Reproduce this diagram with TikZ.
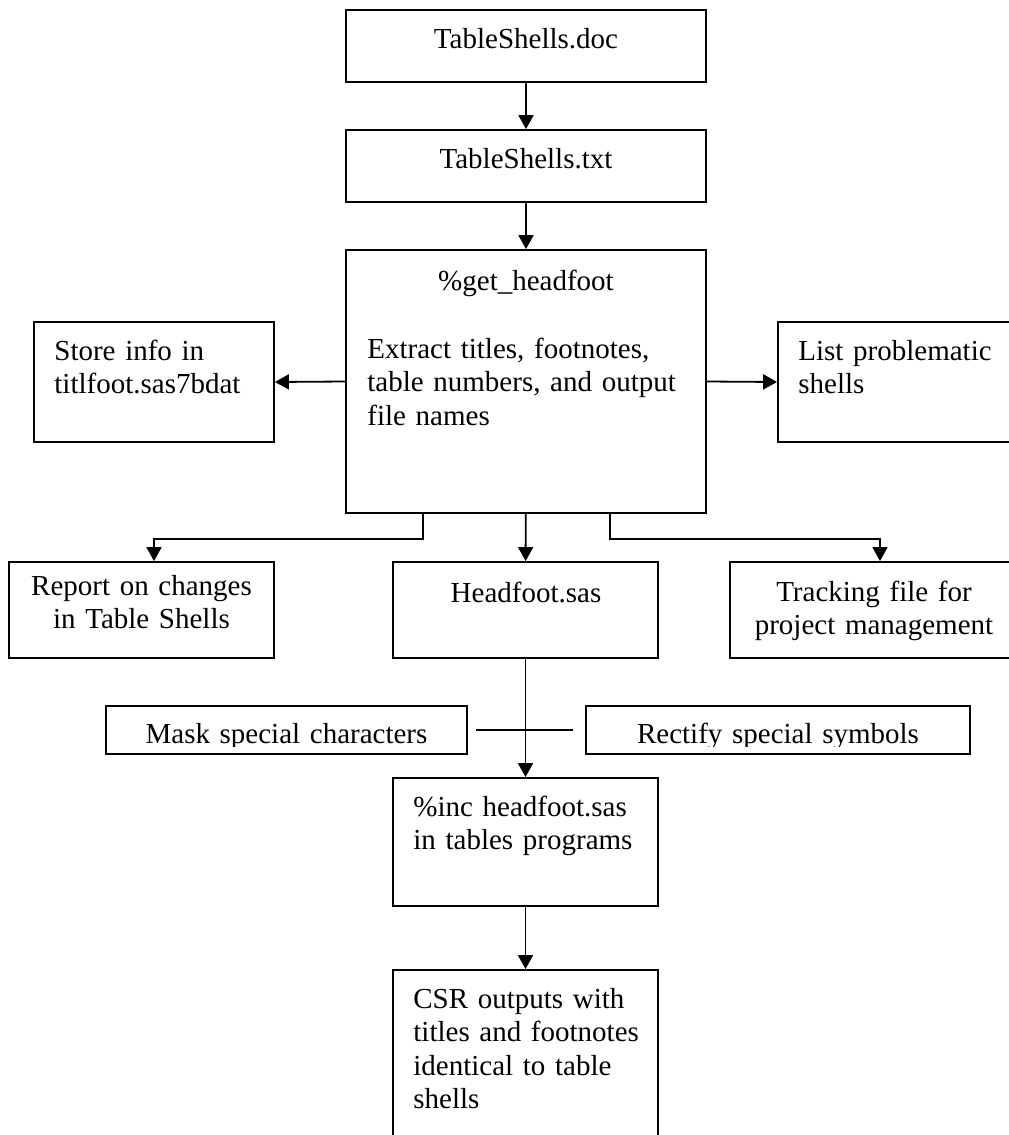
\documentclass[tikz,border=0pt]{standalone}
\usepackage{fontspec}
\setmainfont{Liberation Serif}
\usetikzlibrary{arrows.meta,fit}

\begin{document}
\begin{tikzpicture}[x=0.5pt,y=-0.5pt,
        box/.style={draw,line width=0.9pt,inner sep=0pt},
        lbl/.style={inner sep=0pt,text width=180pt,font=\fontsize{14.5}{16.75}\selectfont},
        arr/.style={line width=0.9pt,-{Triangle[width=7.5pt,length=7pt]}}]
        \useasboundingbox (0,0) rectangle (1008,1135);
        %% top column
        \node[box,fit={(346,10)(706,82)}] (doc) {};
        \node[lbl,align=center,anchor=base] (doctxt) at (526,48) {TableShells.doc};
        \node[box,fit={(346,130)(706,202)}] (txt) {};
        \node[lbl,align=center,anchor=base] (txttxt) at (526,168) {TableShells.txt};
        \node[box,fit={(346,250)(706,513)}] (get) {};
        \node[lbl,align=center,anchor=base] (gettitle) at (526,290) {\%get\_headfoot};
        \node[lbl,align=left,anchor=base west] (gettxt) at (367,358) {Extract titles, footnotes,\\table numbers, and output\\file names};
        %% side boxes
        \node[box,fit={(34,322)(274,442)}] (store) {};
        \node[lbl,align=left,anchor=base west] (storetxt) at (54,360) {Store info in\\titlfoot.sas7bdat};
        \node[box,fit={(778,322)(1020,442)}] (list) {};
        \node[lbl,align=left,anchor=base west] (listtxt) at (798,360) {List problematic\\shells};
        %% outputs
        \node[box,fit={(9,562)(274,658)}] (report) {};
        \node[lbl,align=center,anchor=base] (reporttxt) at (141.5,595) {Report on changes\\in Table Shells};
        \node[box,fit={(393,562)(658,658)}] (head) {};
        \node[lbl,align=center,anchor=base] (headtxt) at (526,602) {Headfoot.sas};
        \node[box,fit={(730,562)(1018,658)}] (track) {};
        \node[lbl,align=center,anchor=base] (tracktxt) at (874,601) {Tracking file for\\project management};
        %% special characters
        \node[box,fit={(106,706)(467,754)}] (mask) {};
        \node[box,fit={(586,706)(970,754)}] (rect) {};
        \begin{scope}
            \clip (100,700) rectangle (980,746);
            \node[lbl,align=center,anchor=base] (masktxt) at (286.5,743) {Mask special characters};
            \node[lbl,align=center,anchor=base] (recttxt) at (778,743) {Rectify special symbols};
        \end{scope}
        %% bottom column
        \node[box,fit={(393,778)(658,906)}] (inc) {};
        \node[lbl,align=left,anchor=base west] (inctxt) at (413,816) {\%inc headfoot.sas\\in tables programs};
        \node[box,fit={(393,970)(658,1150)}] (csr) {};
        \node[lbl,align=left,anchor=base west] (csrtxt) at (413,1008) {CSR outputs with\\titles and footnotes\\identical to table\\shells};
        %% connectors
        \draw[arr] (doc) -- (txt);
        \draw[arr] (txt) -- (get);
        \draw[arr] (get.west) -- (store.east);
        \draw[arr] (get.east) -- (list.west);
        \draw[arr] (get) -- (head);
        \draw[arr] ([xshift=-51.5pt]get.south) -- ++(0,25) -| ([xshift=6.25pt]report.north);
        \draw[arr] ([xshift=42pt]get.south) -- ++(0,25) -| ([xshift=3pt]track.north);
        \draw[line width=0.9pt] ([xshift=4pt]mask.east) -- ([xshift=-6pt]rect.west);
        \draw[arr] (head) -- (inc);
        \draw[arr] (inc) -- (csr);
    \end{tikzpicture}
\end{document}
